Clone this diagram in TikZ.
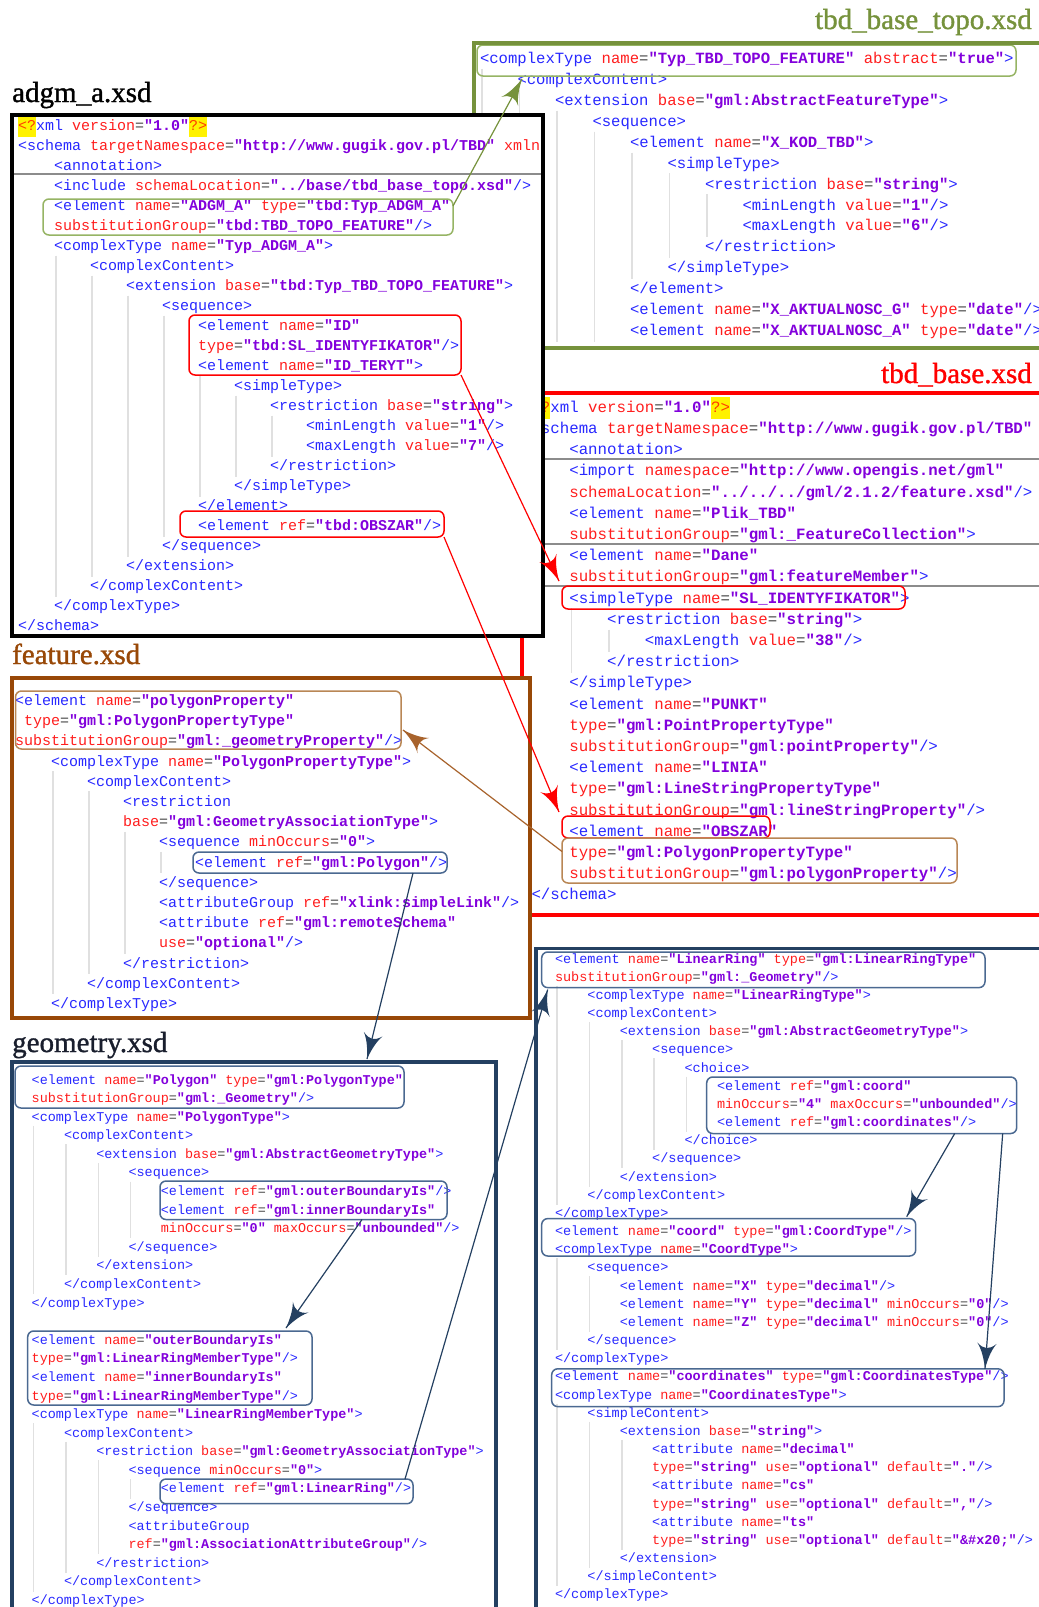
\documentclass[tikz,border=0pt]{standalone}
\usepackage{fontspec}
\setmonofont{Liberation Mono}
\newfontfamily\titlefont[BoldFont={Liberation Serif}, BoldFeatures={FakeBold=1.2}]{Liberation Serif}
\usetikzlibrary{arrows}
\usetikzlibrary{decorations.markings}
\definecolor{xtag}{RGB}{40,40,255}
\definecolor{xatt}{RGB}{255,30,30}
\definecolor{xval}{RGB}{130,0,220}
\definecolor{xeq}{RGB}{70,70,70}
\definecolor{xpi}{RGB}{255,60,0}
\definecolor{fgreen}{RGB}{118,146,60}
\definecolor{bgreen}{RGB}{150,180,100}
\definecolor{fbrown}{RGB}{152,72,7}
\definecolor{bbrown}{RGB}{185,135,85}
\definecolor{fblue}{RGB}{36,64,97}
\definecolor{bblue}{RGB}{75,105,145}
\definecolor{ttldark}{RGB}{25,30,45}
\tikzset{link/.style = {line width=1.2pt,
                        decoration={markings,
                                    mark=at position 1 with {\arrow[scale=4]{latex'}}},
                        postaction={decorate}}}
\tikzset{frame/.style = {line width=3.5pt},
         hlbox/.style = {rectangle, rounded corners=6pt, line width=1.5pt,
                         inner sep=0pt, outer sep=0pt, anchor=north west},
         xmltxt/.style = {anchor=base west, inner sep=0pt, outer sep=0pt, font=\xmlfont},
         guide/.style = {line width=1.5pt, black!12},
         sep/.style = {line width=2pt, black!45},
         ttl/.style = {inner sep=0pt, font=\titlefont\bfseries\fontsize{29}{30}\selectfont}}
\newcommand\tagx[1]{\textcolor{xtag}{#1}}
\newcommand\attx[2]{\textcolor{xatt}{#1}\textcolor{xeq}{=}\textcolor{xval}{\bfseries"#2"}}
\newcommand\pix[1]{{\setlength\fboxsep{0pt}\colorbox{yellow}{\textcolor{xpi}{\strut#1}}}}
\newcommand\linex[3]{\node[xmltxt] (\pn-#1) at ({\px+#2*\pst},{\py+#1*\ppt}) {#3};}
\newcommand\guidex[3]{\draw[guide] ({\px+#1*\pst+2},{\py+(#2-0.75)*\ppt}) -- ({\px+#1*\pst+2},{\py+(#3+0.3)*\ppt});}
\newcommand\hlx[6]{\node[hlbox, draw=#2, minimum width={#5-#3}, minimum height={#6-#4}] (#1) at (#3,#4) {};}

\begin{document}
\begin{tikzpicture}[x=1pt, y=-1pt]
    \useasboundingbox (0,0) rectangle (1039,1607);
    \clip (0,0) rectangle (1039,1607);

    % tbd_base_topo.xsd
    \fill [white] (474,43) rectangle (1045,348);
    \begin{scope}
      \def\pn{topo}\def\px{480}\def\pst{37.5}\def\py{63.7}\def\ppt{20.9}
      \def\xmlfont{\fontsize{15.6}{20.9}\selectfont\ttfamily}
      \guidex{0}{1}{13} \guidex{1}{2}{13} \guidex{2}{3}{13} \guidex{3}{4}{13}
      \guidex{4}{5}{10} \guidex{5}{6}{9} \guidex{6}{7}{8}
      \linex{0}{0}{\tagx{<complexType} \attx{name}{Typ\_TBD\_TOPO\_FEATURE} \attx{abstract}{true}\tagx{>}}
      \linex{1}{1}{\tagx{<complexContent>}}
      \linex{2}{2}{\tagx{<extension} \attx{base}{gml:AbstractFeatureType}\tagx{>}}
      \linex{3}{3}{\tagx{<sequence>}}
      \linex{4}{4}{\tagx{<element} \attx{name}{X\_KOD\_TBD}\tagx{>}}
      \linex{5}{5}{\tagx{<simpleType>}}
      \linex{6}{6}{\tagx{<restriction} \attx{base}{string}\tagx{>}}
      \linex{7}{7}{\tagx{<minLength} \attx{value}{1}\tagx{/>}}
      \linex{8}{7}{\tagx{<maxLength} \attx{value}{6}\tagx{/>}}
      \linex{9}{6}{\tagx{</restriction>}}
      \linex{10}{5}{\tagx{</simpleType>}}
      \linex{11}{4}{\tagx{</element>}}
      \linex{12}{4}{\tagx{<element} \attx{name}{X\_AKTUALNOSC\_G} \attx{type}{date}\tagx{/>}}
      \linex{13}{4}{\tagx{<element} \attx{name}{X\_AKTUALNOSC\_A} \attx{type}{date}\tagx{/>}}
      \hlx{topoHead}{bgreen}{477}{45}{1016}{76}
    \end{scope}
    \draw [frame, fgreen] (474,43) rectangle (1045,348);
    \node [ttl, fgreen, anchor=base east] (topoTitle) at (1032,29) {tbd\_base\_topo.xsd};

    % tbd_base.xsd
    \fill [white] (522,393) rectangle (1045,915);
    \begin{scope}
      \def\pn{base}\def\px{531.5}\def\pst{37.8}\def\py{412.2}\def\ppt{21.2}
      \def\xmlfont{\fontsize{15.75}{21.2}\selectfont\ttfamily}
      \draw [sep] (522,459) -- (1045,459);
      \draw [sep] (522,544) -- (1045,544);
      \draw [sep] (522,586) -- (1045,586);
      \guidex{1}{10}{12} \guidex{2}{11}{11}
      \linex{0}{0}{\pix{<?}\tagx{xml} \attx{version}{1.0}\pix{?>}}
      \linex{1}{0}{\tagx{<schema} \attx{targetNamespace}{http://www.gugik.gov.pl/TBD}}
      \linex{2}{1}{\tagx{<annotation>}}
      \linex{3}{1}{\tagx{<import} \attx{namespace}{http://www.opengis.net/gml}}
      \linex{4}{1}{\attx{schemaLocation}{../../../gml/2.1.2/feature.xsd}\tagx{/>}}
      \linex{5}{1}{\tagx{<element} \attx{name}{Plik\_TBD}}
      \linex{6}{1}{\attx{substitutionGroup}{gml:\_FeatureCollection}\tagx{>}}
      \linex{7}{1}{\tagx{<element} \attx{name}{Dane}}
      \linex{8}{1}{\attx{substitutionGroup}{gml:featureMember}\tagx{>}}
      \linex{9}{1}{\tagx{<simpleType} \attx{name}{SL\_IDENTYFIKATOR}\tagx{>}}
      \linex{10}{2}{\tagx{<restriction} \attx{base}{string}\tagx{>}}
      \linex{11}{3}{\tagx{<maxLength} \attx{value}{38}\tagx{/>}}
      \linex{12}{2}{\tagx{</restriction>}}
      \linex{13}{1}{\tagx{</simpleType>}}
      \linex{14}{1}{\tagx{<element} \attx{name}{PUNKT}}
      \linex{15}{1}{\attx{type}{gml:PointPropertyType}}
      \linex{16}{1}{\attx{substitutionGroup}{gml:pointProperty}\tagx{/>}}
      \linex{17}{1}{\tagx{<element} \attx{name}{LINIA}}
      \linex{18}{1}{\attx{type}{gml:LineStringPropertyType}}
      \linex{19}{1}{\attx{substitutionGroup}{gml:lineStringProperty}\tagx{/>}}
      \linex{20}{1}{\tagx{<element} \attx{name}{OBSZAR}}
      \linex{21}{1}{\attx{type}{gml:PolygonPropertyType}}
      \linex{22}{1}{\attx{substitutionGroup}{gml:polygonProperty}\tagx{/>}}
      \linex{23}{0}{\tagx{</schema>}}
      \hlx{baseSL}{red}{562}{586}{905}{609}
      \hlx{baseOBS}{red}{562}{816}{770}{838}
      \hlx{basePoly}{bbrown}{562}{838}{957}{883}
    \end{scope}
    \draw [frame, red] (522,393) rectangle (1045,915);
    \node [ttl, red, anchor=base east] (baseTitle) at (1032,383) {tbd\_base.xsd};

    % adgm_a.xsd
    \fill [white] (12,115) rectangle (543,636);
    \begin{scope}
      \clip (12,115) rectangle (543,636);
      \def\pn{adgm}\def\px{18}\def\pst{36}\def\py{130.5}\def\ppt{20}
      \def\xmlfont{\fontsize{15}{20}\selectfont\ttfamily}
      \draw [sep] (12,174) -- (543,174);
      \guidex{1}{7}{23} \guidex{2}{8}{22} \guidex{3}{9}{21} \guidex{4}{10}{20}
      \guidex{5}{13}{18} \guidex{6}{14}{17} \guidex{7}{15}{16}
      \linex{0}{0}{\pix{<?}\tagx{xml} \attx{version}{1.0}\pix{?>}}
      \linex{1}{0}{\tagx{<schema} \attx{targetNamespace}{http://www.gugik.gov.pl/TBD} \textcolor{xatt}{xmlns:gml}}
      \linex{2}{1}{\tagx{<annotation>}}
      \linex{3}{1}{\tagx{<include} \attx{schemaLocation}{../base/tbd\_base\_topo.xsd}\tagx{/>}}
      \linex{4}{1}{\tagx{<element} \attx{name}{ADGM\_A} \attx{type}{tbd:Typ\_ADGM\_A}}
      \linex{5}{1}{\attx{substitutionGroup}{tbd:TBD\_TOPO\_FEATURE}\tagx{/>}}
      \linex{6}{1}{\tagx{<complexType} \attx{name}{Typ\_ADGM\_A}\tagx{>}}
      \linex{7}{2}{\tagx{<complexContent>}}
      \linex{8}{3}{\tagx{<extension} \attx{base}{tbd:Typ\_TBD\_TOPO\_FEATURE}\tagx{>}}
      \linex{9}{4}{\tagx{<sequence>}}
      \linex{10}{5}{\tagx{<element} \attx{name}{ID}}
      \linex{11}{5}{\attx{type}{tbd:SL\_IDENTYFIKATOR}\tagx{/>}}
      \linex{12}{5}{\tagx{<element} \attx{name}{ID\_TERYT}\tagx{>}}
      \linex{13}{6}{\tagx{<simpleType>}}
      \linex{14}{7}{\tagx{<restriction} \attx{base}{string}\tagx{>}}
      \linex{15}{8}{\tagx{<minLength} \attx{value}{1}\tagx{/>}}
      \linex{16}{8}{\tagx{<maxLength} \attx{value}{7}\tagx{/>}}
      \linex{17}{7}{\tagx{</restriction>}}
      \linex{18}{6}{\tagx{</simpleType>}}
      \linex{19}{5}{\tagx{</element>}}
      \linex{20}{5}{\tagx{<element} \attx{ref}{tbd:OBSZAR}\tagx{/>}}
      \linex{21}{4}{\tagx{</sequence>}}
      \linex{22}{3}{\tagx{</extension>}}
      \linex{23}{2}{\tagx{</complexContent>}}
      \linex{24}{1}{\tagx{</complexType>}}
      \linex{25}{0}{\tagx{</schema>}}
      \hlx{adgmA}{bgreen}{43}{199}{453}{235}
      \hlx{adgmID}{red}{189}{315}{461}{375}
      \hlx{adgmOBS}{red}{180}{511}{444}{537}
    \end{scope}
    \draw [frame, black] (12,115) rectangle (543,636);
    \node [ttl, black, anchor=base west] (adgmTitle) at (12,102) {adgm\_a.xsd};

    % feature.xsd
    \fill [white] (12,678) rectangle (530,1018);
    \begin{scope}
      \def\pn{feat}\def\px{15}\def\pst{36}\def\py{705.5}\def\ppt{20.2}
      \def\xmlfont{\fontsize{15}{20.2}\selectfont\ttfamily}
      \guidex{1}{4}{14} \guidex{2}{5}{13} \guidex{3}{7}{12} \guidex{4}{8}{8}
      \linex{0}{0}{\tagx{<element} \attx{name}{polygonProperty}}
      \linex{1}{0.25}{\attx{type}{gml:PolygonPropertyType}}
      \linex{2}{0}{\attx{substitutionGroup}{gml:\_geometryProperty}\tagx{/>}}
      \linex{3}{1}{\tagx{<complexType} \attx{name}{PolygonPropertyType}\tagx{>}}
      \linex{4}{2}{\tagx{<complexContent>}}
      \linex{5}{3}{\tagx{<restriction}}
      \linex{6}{3}{\attx{base}{gml:GeometryAssociationType}\tagx{>}}
      \linex{7}{4}{\tagx{<sequence} \attx{minOccurs}{0}\tagx{>}}
      \linex{8}{5}{\tagx{<element} \attx{ref}{gml:Polygon}\tagx{/>}}
      \linex{9}{4}{\tagx{</sequence>}}
      \linex{10}{4}{\tagx{<attributeGroup} \attx{ref}{xlink:simpleLink}\tagx{/>}}
      \linex{11}{4}{\tagx{<attribute} \attx{ref}{gml:remoteSchema}}
      \linex{12}{4}{\attx{use}{optional}\tagx{/>}}
      \linex{13}{3}{\tagx{</restriction>}}
      \linex{14}{2}{\tagx{</complexContent>}}
      \linex{15}{1}{\tagx{</complexType>}}
      \hlx{featPoly}{bbrown}{15.5}{691}{401}{749}
      \hlx{featPolygon}{bblue}{193}{852}{447}{873}
    \end{scope}
    \draw [frame, fbrown] (12,678) rectangle (530,1018);
    \node [ttl, fbrown, anchor=base west] (featTitle) at (12,664) {feature.xsd};

    % geometry.xsd
    \fill [white] (12,1062) rectangle (496,1620);
    \begin{scope}
      \def\pn{geo}\def\px{31.7}\def\pst{32.3}\def\py{1084}\def\ppt{18.59}
      \def\xmlfont{\fontsize{13.45}{18.59}\selectfont\ttfamily}
      \guidex{0}{3}{11} \guidex{1}{4}{10} \guidex{2}{5}{9} \guidex{3}{6}{8}
      \guidex{0}{19}{27} \guidex{1}{20}{26} \guidex{2}{21}{25} \guidex{3}{22}{22}
      \linex{0}{0}{\tagx{<element} \attx{name}{Polygon} \attx{type}{gml:PolygonType}}
      \linex{1}{0}{\attx{substitutionGroup}{gml:\_Geometry}\tagx{/>}}
      \linex{2}{0}{\tagx{<complexType} \attx{name}{PolygonType}\tagx{>}}
      \linex{3}{1}{\tagx{<complexContent>}}
      \linex{4}{2}{\tagx{<extension} \attx{base}{gml:AbstractGeometryType}\tagx{>}}
      \linex{5}{3}{\tagx{<sequence>}}
      \linex{6}{4}{\tagx{<element} \attx{ref}{gml:outerBoundaryIs}\tagx{/>}}
      \linex{7}{4}{\tagx{<element} \attx{ref}{gml:innerBoundaryIs}}
      \linex{8}{4}{\attx{minOccurs}{0} \attx{maxOccurs}{unbounded}\tagx{/>}}
      \linex{9}{3}{\tagx{</sequence>}}
      \linex{10}{2}{\tagx{</extension>}}
      \linex{11}{1}{\tagx{</complexContent>}}
      \linex{12}{0}{\tagx{</complexType>}}
      \linex{14}{0}{\tagx{<element} \attx{name}{outerBoundaryIs}}
      \linex{15}{0}{\attx{type}{gml:LinearRingMemberType}\tagx{/>}}
      \linex{16}{0}{\tagx{<element} \attx{name}{innerBoundaryIs}}
      \linex{17}{0}{\attx{type}{gml:LinearRingMemberType}\tagx{/>}}
      \linex{18}{0}{\tagx{<complexType} \attx{name}{LinearRingMemberType}\tagx{>}}
      \linex{19}{1}{\tagx{<complexContent>}}
      \linex{20}{2}{\tagx{<restriction} \attx{base}{gml:GeometryAssociationType}\tagx{>}}
      \linex{21}{3}{\tagx{<sequence} \attx{minOccurs}{0}\tagx{>}}
      \linex{22}{4}{\tagx{<element} \attx{ref}{gml:LinearRing}\tagx{/>}}
      \linex{23}{3}{\tagx{</sequence>}}
      \linex{24}{3}{\tagx{<attributeGroup}}
      \linex{25}{3}{\attx{ref}{gml:AssociationAttributeGroup}\tagx{/>}}
      \linex{26}{2}{\tagx{</restriction>}}
      \linex{27}{1}{\tagx{</complexContent>}}
      \linex{28}{0}{\tagx{</complexType>}}
      \hlx{geoPoly}{bblue}{15}{1066}{404}{1108}
      \hlx{geoOuter}{bblue}{160}{1181}{447}{1219.5}
      \hlx{geoOBI}{bblue}{27.7}{1331}{312}{1405}
      \hlx{geoLR}{bblue}{160}{1479}{413}{1503.7}
    \end{scope}
    \draw [frame, fblue] (12,1062) rectangle (496,1620);
    \node [ttl, ttldark, anchor=base west] (geoTitle) at (12,1052) {geometry.xsd};

    % LinearRing, coord, coordinates
    \fill [white] (536,948.5) rectangle (1045,1620);
    \begin{scope}
      \def\pn{ring}\def\px{555}\def\pst{32.4}\def\py{963}\def\ppt{18.17}
      \def\xmlfont{\fontsize{13.5}{18.17}\selectfont\ttfamily}
      \guidex{0}{2}{13} \guidex{1}{4}{12} \guidex{2}{5}{11} \guidex{3}{6}{10} \guidex{4}{7}{9}
      \guidex{0}{17}{21} \guidex{1}{18}{20}
      \guidex{0}{25}{34} \guidex{1}{26}{33} \guidex{2}{27}{32}
      \linex{0}{0}{\tagx{<element} \attx{name}{LinearRing} \attx{type}{gml:LinearRingType}}
      \linex{1}{0}{\attx{substitutionGroup}{gml:\_Geometry}\tagx{/>}}
      \linex{2}{1}{\tagx{<complexType} \attx{name}{LinearRingType}\tagx{>}}
      \linex{3}{1}{\tagx{<complexContent>}}
      \linex{4}{2}{\tagx{<extension} \attx{base}{gml:AbstractGeometryType}\tagx{>}}
      \linex{5}{3}{\tagx{<sequence>}}
      \linex{6}{4}{\tagx{<choice>}}
      \linex{7}{5}{\tagx{<element} \attx{ref}{gml:coord}}
      \linex{8}{5}{\attx{minOccurs}{4} \attx{maxOccurs}{unbounded}\tagx{/>}}
      \linex{9}{5}{\tagx{<element} \attx{ref}{gml:coordinates}\tagx{/>}}
      \linex{10}{4}{\tagx{</choice>}}
      \linex{11}{3}{\tagx{</sequence>}}
      \linex{12}{2}{\tagx{</extension>}}
      \linex{13}{1}{\tagx{</complexContent>}}
      \linex{14}{0}{\tagx{</complexType>}}
      \linex{15}{0}{\tagx{<element} \attx{name}{coord} \attx{type}{gml:CoordType}\tagx{/>}}
      \linex{16}{0}{\tagx{<complexType} \attx{name}{CoordType}\tagx{>}}
      \linex{17}{1}{\tagx{<sequence>}}
      \linex{18}{2}{\tagx{<element} \attx{name}{X} \attx{type}{decimal}\tagx{/>}}
      \linex{19}{2}{\tagx{<element} \attx{name}{Y} \attx{type}{decimal} \attx{minOccurs}{0}\tagx{/>}}
      \linex{20}{2}{\tagx{<element} \attx{name}{Z} \attx{type}{decimal} \attx{minOccurs}{0}\tagx{/>}}
      \linex{21}{1}{\tagx{</sequence>}}
      \linex{22}{0}{\tagx{</complexType>}}
      \linex{23}{0}{\tagx{<element} \attx{name}{coordinates} \attx{type}{gml:CoordinatesType}\tagx{/>}}
      \linex{24}{0}{\tagx{<complexType} \attx{name}{CoordinatesType}\tagx{>}}
      \linex{25}{1}{\tagx{<simpleContent>}}
      \linex{26}{2}{\tagx{<extension} \attx{base}{string}\tagx{>}}
      \linex{27}{3}{\tagx{<attribute} \attx{name}{decimal}}
      \linex{28}{3}{\attx{type}{string} \attx{use}{optional} \attx{default}{.}\tagx{/>}}
      \linex{29}{3}{\tagx{<attribute} \attx{name}{cs}}
      \linex{30}{3}{\attx{type}{string} \attx{use}{optional} \attx{default}{,}\tagx{/>}}
      \linex{31}{3}{\tagx{<attribute} \attx{name}{ts}}
      \linex{32}{3}{\attx{type}{string} \attx{use}{optional} \attx{default}{\&\#x20;}\tagx{/>}}
      \linex{33}{2}{\tagx{</extension>}}
      \linex{34}{1}{\tagx{</simpleContent>}}
      \linex{35}{0}{\tagx{</complexType>}}
      \hlx{ringLR}{bblue}{541.7}{952}{985}{987.6}
      \hlx{ringChoice}{bblue}{706.7}{1077}{1016.7}{1133.5}
      \hlx{ringCoord}{bblue}{541.7}{1218.6}{915.7}{1256}
      \hlx{ringCoords}{bblue}{551.7}{1368.8}{1004}{1406.6}
    \end{scope}
    \draw [frame, fblue] (536,948.5) rectangle (1045,1620);

    % links
    \draw [link, fgreen] ([yshift=-7pt]adgmA.north east) -- ([xshift=45pt,yshift=-3pt]topoHead.south west);
    \draw [link, red] (adgmID.south east) -- ([xshift=-3pt,yshift=5pt]baseSL.north west);
    \draw [link, red] (adgmOBS.south east) -- ([xshift=-3pt,yshift=4pt]baseOBS.north west);
    \draw [link, fbrown!85] ([yshift=9pt]basePoly.west) -- ([xshift=2pt,yshift=-10pt]featPoly.east);
    \draw [link, fblue] ([xshift=-34pt]featPolygon.south east) -- ([xshift=-37pt,yshift=7pt]geoPoly.north east);
    \draw [link, fblue] ([xshift=-85pt]geoOuter.south east) -- ([xshift=-26pt,yshift=3pt]geoOBI.north east);
    \draw [link, fblue] ([xshift=-8pt]geoLR.north east) -- ([xshift=6pt,yshift=-2pt]ringLR.south west);
    \draw [link, fblue] ([xshift=-62pt]ringChoice.south east) -- ([xshift=-9pt,yshift=2pt]ringCoord.north east);
    \draw [link, fblue] ([xshift=-14pt]ringChoice.south east) -- ([xshift=-19pt]ringCoords.north east);
  \end{tikzpicture}
\end{document}
